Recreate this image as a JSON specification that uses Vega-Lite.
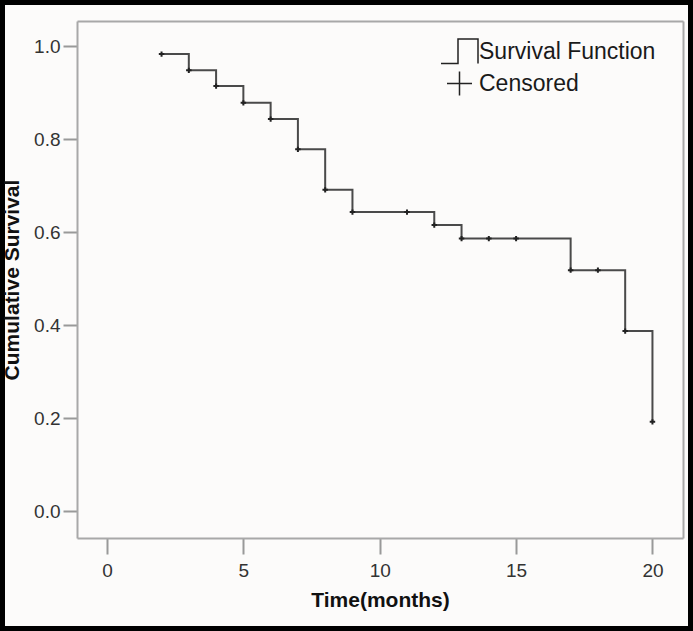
{
  "$schema": "https://vega.github.io/schema/vega-lite/v6.json",
  "width": 693,
  "height": 631,
  "autosize": {"type": "none"},
  "padding": 0,
  "background": "#fcfbfa",
  "config": {
    "view": {"stroke": "#000000", "strokeWidth": 10, "fill": "#fcfbfa"},
    "font": "Liberation Sans"
  },
  "data": {
    "values": [
      {"time": 2, "survival": 0.983},
      {"time": 3, "survival": 0.948},
      {"time": 4, "survival": 0.914},
      {"time": 5, "survival": 0.878},
      {"time": 6, "survival": 0.843},
      {"time": 7, "survival": 0.778},
      {"time": 8, "survival": 0.691},
      {"time": 9, "survival": 0.643},
      {"time": 11, "survival": 0.643},
      {"time": 12, "survival": 0.615},
      {"time": 13, "survival": 0.586},
      {"time": 14, "survival": 0.586},
      {"time": 15, "survival": 0.586},
      {"time": 17, "survival": 0.518},
      {"time": 18, "survival": 0.518},
      {"time": 19, "survival": 0.387},
      {"time": 20, "survival": 0.192}
    ]
  },
  "layer": [
    {
      "mark": {"type": "line", "interpolate": "step-after", "color": "#4a4a4a", "strokeWidth": 2},
      "encoding": {
        "x": {
          "field": "time", "type": "quantitative",
          "scale": {"domain": [-1.1, 21.12], "range": [77, 683], "nice": false, "zero": false},
          "axis": {
            "orient": "bottom", "offset": -93, "values": [0, 5, 10, 15, 20],
            "title": "Time(months)", "titleFontSize": 21, "titleFontWeight": "bold", "titleColor": "#111111",
            "titlePadding": 9,
            "labelFontSize": 19, "labelColor": "#333333", "labelPadding": 7, "labelFont": "Liberation Sans",
            "tickSize": 16, "tickOffset": 0, "tickColor": "#999999", "tickWidth": 2,
            "domainColor": "#a8a8a8", "domainWidth": 2, "grid": false
          }
        },
        "y": {
          "field": "survival", "type": "quantitative",
          "scale": {"domain": [-0.058, 1.054], "range": [538, 21], "nice": false, "zero": false},
          "axis": {
            "orient": "left", "offset": -77, "values": [0, 0.2, 0.4, 0.6, 0.8, 1.0], "format": ".1f",
            "title": "Cumulative Survival", "titleFontSize": 21, "titleFontWeight": "bold", "titleColor": "#111111",
            "titlePadding": 11,
            "labelFontSize": 19, "labelColor": "#333333", "labelPadding": 3, "labelFont": "Liberation Sans",
            "tickSize": 14, "tickColor": "#999999", "tickWidth": 2,
            "domainColor": "#a8a8a8", "domainWidth": 2, "grid": false
          }
        }
      }
    },
    {
      "mark": {"type": "point", "filled": false, "color": "#222222", "strokeWidth": 2, "size": 30, "opacity": 1},
      "encoding": {
        "x": {
          "field": "time", "type": "quantitative",
          "axis": {"orient": "top", "offset": -21, "labels": false, "ticks": false, "title": null,
                   "domainColor": "#a8a8a8", "domainWidth": 2, "grid": false}
        },
        "y": {
          "field": "survival", "type": "quantitative",
          "axis": {"orient": "right", "offset": -10, "labels": false, "ticks": false, "title": null,
                   "domainColor": "#a8a8a8", "domainWidth": 2, "grid": false}
        },
        "shape": {
          "datum": "Censored",
          "scale": {
            "domain": ["Survival Function", "Censored"],
            "range": ["M-1.48,0.95H-0.12V-1H1.48V0.95", "M-1,0H1M0,-0.96V0.96"]
          },
          "legend": {
            "title": null, "orient": "none", "legendX": 446, "legendY": 38,
            "symbolSize": 625, "symbolStrokeWidth": 1.5, "symbolStrokeColor": "#222222",
            "symbolFillColor": "transparent",
            "labelFontSize": 23, "labelColor": "#1a1a1a", "labelOffset": 6, "labelFont": "Liberation Sans",
            "rowPadding": 1, "padding": 0, "labelLimit": 300
          }
        }
      }
    }
  ],
  "resolve": {"axis": {"x": "independent", "y": "independent"}}
}
